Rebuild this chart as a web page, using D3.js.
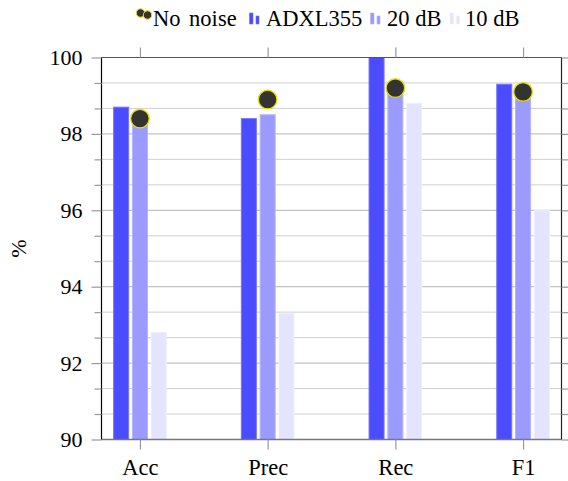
<!DOCTYPE html>
<html>
<head>
<meta charset="utf-8">
<script src="https://cdn.jsdelivr.net/npm/d3@7"></script>
<style>
  html, body { margin: 0; padding: 0; background: #fff; }
  svg { display: block; }
  text { font-family: "Liberation Serif", "DejaVu Serif", serif; fill: #000; }
</style>
</head>
<body>
<svg id="chart" width="568" height="481"></svg>
<script>
// Metric categories and scores (%)
const categories = ["Acc", "Prec", "Rec", "F1"];
const adxl355 = [98.7, 98.4, 100.0, 99.3];
const db20 = [98.4, 98.5, 99.2, 99.1];
const db10 = [92.8, 93.3, 98.8, 96.0];
const noNoise = [98.4, 98.9, 99.2, 99.1];
const yTicks = [90, 92, 94, 96, 98, 100];

const barSeries = [
  { name: "ADXL355", values: adxl355, fill: "#4b4bff", stroke: "#7373ff" },
  { name: "20 dB", values: db20, fill: "#9a9aff", stroke: "#b3b3ff" },
  { name: "10 dB", values: db10, fill: "#e4e4ff", stroke: "#eeeeff" }
];

const svg = d3.select("#chart");
const plotL = 101.5, plotR = 561.5, plotT = 57.5, plotB = 439.5;

const x = d3.scalePoint().domain(categories).range([plotL, plotR]).padding(0.301);
const y = d3.scaleLinear().domain([90, 100]).range([plotB, plotT]);

// Minor grid values: two minor ticks between each pair of majors
const minorVals = [];
for (let i = 0; i < yTicks.length - 1; i++) {
  const a = yTicks[i], b = yTicks[i + 1];
  minorVals.push(a + (b - a) / 3, a + 2 * (b - a) / 3);
}

// Grid lines
const grid = svg.append("g");
grid.selectAll("line.minor").data(minorVals).join("line")
  .attr("x1", plotL).attr("x2", plotR)
  .attr("y1", d => y(d)).attr("y2", d => y(d))
  .attr("stroke", "#d0d0d0").attr("stroke-width", 1);
grid.selectAll("line.major").data(yTicks).join("line")
  .attr("x1", plotL).attr("x2", plotR)
  .attr("y1", d => y(d)).attr("y2", d => y(d))
  .attr("stroke", "#c4c4c4").attr("stroke-width", 1.2);

// Bars
const barW = 15, barStep = 18.8;
barSeries.forEach((s, si) => {
  svg.append("g").selectAll("rect").data(categories).join("rect")
    .attr("x", c => x(c) + (si - 1) * barStep - barW / 2)
    .attr("width", barW)
    .attr("y", (c, i) => y(s.values[i]))
    .attr("height", (c, i) => y(90) - y(s.values[i]))
    .attr("fill", s.fill)
    .attr("stroke", s.stroke)
    .attr("stroke-width", 1);
});

// Axis frame
svg.append("line").attr("x1", plotL).attr("x2", plotR).attr("y1", plotT).attr("y2", plotT)
  .attr("stroke", "#555").attr("stroke-width", 1.2);
svg.append("line").attr("x1", plotL).attr("x2", plotR).attr("y1", plotB).attr("y2", plotB)
  .attr("stroke", "#777").attr("stroke-width", 1.6);
svg.append("line").attr("x1", plotL).attr("x2", plotL).attr("y1", plotT).attr("y2", plotB)
  .attr("stroke", "#000").attr("stroke-width", 1.2);
svg.append("line").attr("x1", plotR).attr("x2", plotR).attr("y1", plotT).attr("y2", plotB)
  .attr("stroke", "#222").attr("stroke-width", 1.2);

// Y axis: major ticks with labels, minor ticks on both sides
const yAxis = d3.axisLeft(y).tickValues(yTicks).tickSize(10).tickPadding(9).tickFormat(d3.format("d"));
const gy = svg.append("g").attr("transform", `translate(${plotL},0)`).call(yAxis);
gy.select(".domain").remove();
gy.selectAll(".tick line").attr("stroke", "#999").attr("stroke-width", 1.2);
gy.selectAll(".tick text").style("font-size", "22px").attr("font-family", null);

const gyMinor = svg.append("g").attr("transform", `translate(${plotL},0)`)
  .call(d3.axisLeft(y).tickValues(minorVals).tickSize(7).tickFormat(""));
gyMinor.select(".domain").remove();
gyMinor.selectAll(".tick line").attr("stroke", "#999").attr("stroke-width", 1.2);

const gyR = svg.append("g").attr("transform", `translate(${plotR},0)`)
  .call(d3.axisRight(y).tickValues(yTicks).tickSize(10).tickFormat(""));
gyR.select(".domain").remove();
gyR.selectAll(".tick line").attr("stroke", "#999").attr("stroke-width", 1.2);
const gyRMinor = svg.append("g").attr("transform", `translate(${plotR},0)`)
  .call(d3.axisRight(y).tickValues(minorVals).tickSize(7).tickFormat(""));
gyRMinor.select(".domain").remove();
gyRMinor.selectAll(".tick line").attr("stroke", "#999").attr("stroke-width", 1.2);

// X axis ticks and labels
const gx = svg.append("g").attr("transform", `translate(0,${plotB})`)
  .call(d3.axisBottom(x).tickSize(10).tickPadding(10));
gx.select(".domain").remove();
gx.selectAll(".tick line").attr("stroke", "#999").attr("stroke-width", 1.2);
gx.selectAll(".tick text").style("font-size", "22.5px").attr("font-family", null);

const gxT = svg.append("g").attr("transform", `translate(0,${plotT})`)
  .call(d3.axisTop(x).tickSize(10).tickFormat(""));
gxT.select(".domain").remove();
gxT.selectAll(".tick line").attr("stroke", "#999").attr("stroke-width", 1.2);

// No-noise markers
svg.append("g").selectAll("circle").data(categories).join("circle")
  .attr("cx", c => x(c))
  .attr("cy", (c, i) => y(noNoise[i]))
  .attr("r", 9.3)
  .attr("fill", "#333")
  .attr("stroke", "#e8e000")
  .attr("stroke-width", 1.3);

// Y axis title
svg.append("text")
  .attr("transform", `translate(26,${(plotT + plotB) / 2}) rotate(-90)`)
  .attr("text-anchor", "middle")
  .style("font-size", "22px")
  .text("%");

// Legend
const lg = svg.append("g").attr("transform", "translate(0,26)");
lg.append("circle").attr("cx", 140.5).attr("cy", -13).attr("r", 4.2)
  .attr("fill", "#333").attr("stroke", "#e8e000").attr("stroke-width", 1);
lg.append("circle").attr("cx", 147.5).attr("cy", -11).attr("r", 4.2)
  .attr("fill", "#333").attr("stroke", "#e8e000").attr("stroke-width", 1);
lg.append("text").attr("x", 153).attr("y", 0).style("font-size", "22.5px").attr("word-spacing", "3px").text("No noise");

const legendX = [249.5, 370.5, 450];
const legendTextX = [266, 387, 465];
barSeries.forEach((s, si) => {
  lg.append("rect").attr("x", legendX[si]).attr("y", -13).attr("width", 3.5).attr("height", 11)
    .attr("fill", s.fill).attr("stroke", s.stroke).attr("stroke-width", 0.6);
  lg.append("rect").attr("x", legendX[si] + 6.5).attr("y", -10).attr("width", 3).attr("height", 8)
    .attr("fill", s.fill).attr("stroke", s.stroke).attr("stroke-width", 0.6);
  lg.append("text").attr("x", legendTextX[si]).attr("y", 0).style("font-size", "22.5px").text(s.name);
});
</script>
</body>
</html>
